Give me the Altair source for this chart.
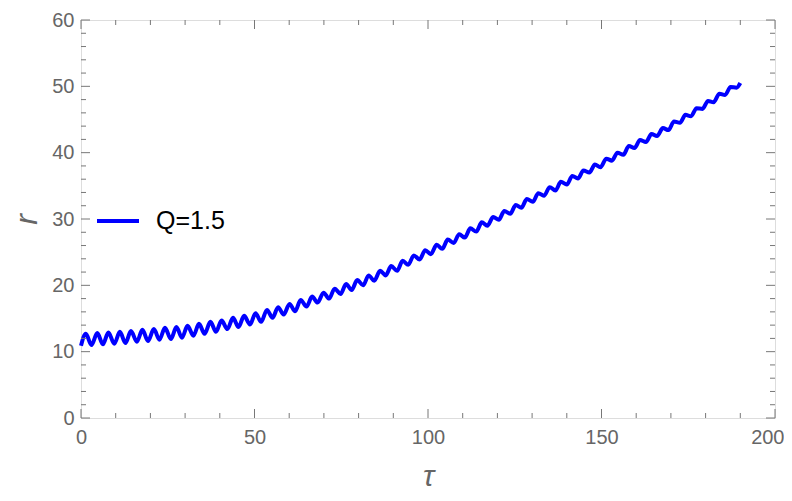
import altair as alt
import pandas as pd

series_name = "Q=1.5"

# extrema of the oscillating trajectory (tau, r)
tau = [0.0, 1.4, 3.0, 4.7, 6.3, 7.9, 9.6, 11.2, 12.8, 14.4, 16.1, 17.7, 19.3, 21.0, 22.6,
       24.2, 25.9, 27.5, 29.1, 30.7, 32.4, 34.0, 35.6, 37.3, 38.9, 40.5, 42.2, 43.8, 45.4,
       47.0, 48.7, 50.3, 51.9, 53.6, 55.2, 56.8, 58.4, 60.1, 61.7, 63.3, 65.0, 66.6, 68.2,
       69.9, 71.5, 73.1, 74.8, 76.4, 78.0, 79.6, 81.3, 82.9, 84.5, 86.2, 87.8, 89.4, 91.1,
       92.7, 94.3, 95.9, 97.6, 99.2, 100.8, 102.5, 104.1, 105.7, 107.4, 109.0, 110.6, 112.2,
       113.9, 115.5, 117.1, 118.8, 120.4, 122.0, 123.7, 125.3, 126.9, 128.5, 130.2, 131.8,
       133.4, 135.1, 136.7, 138.3, 140.0, 141.6, 143.2, 144.8, 146.5, 148.1, 149.7, 151.4,
       153.0, 154.6, 156.3, 157.9, 159.5, 161.1, 162.8, 164.4, 166.0, 167.7, 169.3, 170.9,
       172.6, 174.2, 175.8, 177.4, 179.1, 180.7, 182.3, 184.0, 185.6, 187.2, 188.9, 190.0]
r = [10.9, 12.7, 11.0, 12.8, 11.1, 12.9, 11.2, 13.0, 11.3, 13.1, 11.5, 13.3, 11.6, 13.4, 11.8,
     13.6, 11.9, 13.7, 12.1, 13.9, 12.4, 14.2, 12.7, 14.5, 13.0, 14.7, 13.4, 15.1, 13.7,
     15.4, 14.1, 15.8, 14.5, 16.3, 15.1, 16.7, 15.6, 17.2, 16.1, 17.8, 16.8, 18.3, 17.4,
     18.9, 18.0, 19.5, 18.7, 20.2, 19.3, 20.8, 20.0, 21.5, 20.7, 22.2, 21.5, 22.9, 22.2,
     23.7, 23.1, 24.5, 23.9, 25.3, 24.7, 26.1, 25.5, 26.9, 26.4, 27.7, 27.2, 28.6,
     28.1, 29.5, 29.0, 30.3, 29.9, 31.2, 30.8, 32.1, 31.7, 33.0, 32.6, 33.9,
     33.5, 34.8, 34.3, 35.6, 35.2, 36.5, 36.1, 37.3, 37.0, 38.2, 37.8, 39.1,
     38.8, 40.0, 39.7, 41.0, 40.7, 41.9, 41.6, 42.8, 42.5, 43.7, 43.4, 44.7,
     44.5, 45.7, 45.5, 46.7, 46.6, 47.8, 47.6, 48.9, 48.7, 49.9, 49.8, 50.5]

x_major = [0, 50, 100, 150, 200]
x_minor = [10, 20, 30, 40, 60, 70, 80, 90, 110, 120, 130, 140, 160, 170, 180, 190]
y_major = [0, 10, 20, 30, 40, 50, 60]
y_minor = [2, 4, 6, 8, 12, 14, 16, 18, 22, 24, 26, 28, 32, 34, 36, 38, 42, 44, 46, 48,
           52, 54, 56, 58]

W, H = 694, 398
FRAME = "#777777"
TXT = "#666666"
FONT = "Liberation Sans"

df = pd.DataFrame({"tau": tau, "r": r, "series": [series_name] * len(tau)})

xscale = alt.Scale(domain=[0, 200], nice=False, zero=False)
yscale = alt.Scale(domain=[0, 60], nice=False, zero=False)

line = alt.Chart(df).mark_line(strokeWidth=4, interpolate="monotone").encode(
    x=alt.X("tau:Q", scale=xscale,
            axis=alt.Axis(values=x_major, ticks=False, domain=False, grid=False,
                          labelFontSize=20, labelColor=TXT, labelFont=FONT,
                          labelPadding=9, labelFlush=False,
                          labelAlign={"condition": {"test": "datum.value == 200", "value": "right"},
                                      "value": "center"},
                          labelOffset={"condition": {"test": "datum.value == 200", "value": 9},
                                       "value": 0},
                          title="τ", titleFontStyle="italic", titleFontSize=30,
                          titleFontWeight="normal", titleColor=TXT, titleFont=FONT,
                          titlePadding=14)),
    y=alt.Y("r:Q", scale=yscale,
            axis=alt.Axis(values=y_major, ticks=False, domain=False, grid=False,
                          labelFontSize=20, labelColor=TXT, labelFont=FONT,
                          labelPadding=7, labelFlush=False,
                          title="r", titleFontStyle="italic", titleFontSize=32,
                          titleFontWeight="normal", titleColor=TXT, titleFont=FONT,
                          titlePadding=8)),
    color=alt.Color("series:N", scale=alt.Scale(range=["#0000ff"]),
                    legend=alt.Legend(title=None, orient="none", legendX=14, legendY=178,
                                      symbolType="stroke", symbolSize=1764,
                                      symbolStrokeWidth=4, labelFontSize=25,
                                      labelColor="#000000", labelFont=FONT,
                                      labelOffset=15)),
)

def xticks(vals, length):
    d = pd.DataFrame({"tau": vals})
    b = alt.Chart(d).mark_rule(color=FRAME, strokeWidth=1)
    bot = b.encode(x=alt.X("tau:Q", scale=xscale), y=alt.value(H), y2=alt.value(H - length))
    top = b.encode(x=alt.X("tau:Q", scale=xscale), y=alt.value(0), y2=alt.value(length))
    return [bot, top]

def yticks(vals, length):
    d = pd.DataFrame({"r": vals})
    b = alt.Chart(d).mark_rule(color=FRAME, strokeWidth=1)
    left = b.encode(y=alt.Y("r:Q", scale=yscale), x=alt.value(0), x2=alt.value(length))
    right = b.encode(y=alt.Y("r:Q", scale=yscale), x=alt.value(W), x2=alt.value(W - length))
    return [left, right]

layers = [line] + xticks(x_major, 9) + xticks(x_minor, 5) + yticks(y_major, 9) + yticks(y_minor, 5)

chart = alt.layer(*layers).properties(
    width=W, height=H,
    autosize=alt.AutoSizeParams(type="none"),
    padding={"left": 73, "top": 12, "right": 9, "bottom": 75},
).configure_view(stroke=FRAME, strokeWidth=1).configure(background="white")

chart.save("out.html", embed_options={"renderer": "svg", "actions": False})
